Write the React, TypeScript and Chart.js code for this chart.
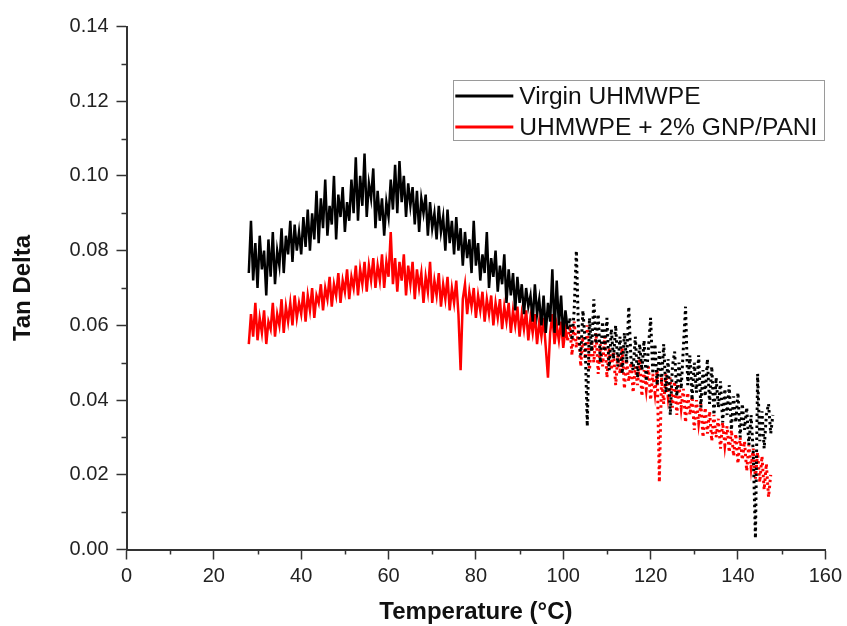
import { useEffect, useRef } from "react";
import { Chart, registerables } from "chart.js";

Chart.register(...registerables);

const temperatures = [
  28, 28.5, 29, 29.5, 30, 30.5, 31, 31.5, 32, 32.5,
  33, 33.5, 34, 34.5, 35, 35.5, 36, 36.5, 37, 37.5,
  38, 38.5, 39, 39.5, 40, 40.5, 41, 41.5, 42, 42.5,
  43, 43.5, 44, 44.5, 45, 45.5, 46, 46.5, 47, 47.5,
  48, 48.5, 49, 49.5, 50, 50.5, 51, 51.5, 52, 52.5,
  53, 53.5, 54, 54.5, 55, 55.5, 56, 56.5, 57, 57.5,
  58, 58.5, 59, 59.5, 60, 60.5, 61, 61.5, 62, 62.5,
  63, 63.5, 64, 64.5, 65, 65.5, 66, 66.5, 67, 67.5,
  68, 68.5, 69, 69.5, 70, 70.5, 71, 71.5, 72, 72.5,
  73, 73.5, 74, 74.5, 75, 75.5, 76, 76.5, 77, 77.5,
  78, 78.5, 79, 79.5, 80, 80.5, 81, 81.5, 82, 82.5,
  83, 83.5, 84, 84.5, 85, 85.5, 86, 86.5, 87, 87.5,
  88, 88.5, 89, 89.5, 90, 90.5, 91, 91.5, 92, 92.5,
  93, 93.5, 94, 94.5, 95, 95.5, 96, 96.5, 97, 97.5,
  98, 98.5, 99, 99.5, 100, 100.5, 101, 101.5, 102, 102.5,
  103, 103.5, 104, 104.5, 105, 105.5, 106, 106.5, 107, 107.5,
  108, 108.5, 109, 109.5, 110, 110.5, 111, 111.5, 112, 112.5,
  113, 113.5, 114, 114.5, 115, 115.5, 116, 116.5, 117, 117.5,
  118, 118.5, 119, 119.5, 120, 120.5, 121, 121.5, 122, 122.5,
  123, 123.5, 124, 124.5, 125, 125.5, 126, 126.5, 127, 127.5,
  128, 128.5, 129, 129.5, 130, 130.5, 131, 131.5, 132, 132.5,
  133, 133.5, 134, 134.5, 135, 135.5, 136, 136.5, 137, 137.5,
  138, 138.5, 139, 139.5, 140, 140.5, 141, 141.5, 142, 142.5,
  143, 143.5, 144, 144.5, 145, 145.5, 146, 146.5, 147, 147.5,
  148,
];

const virginTanDelta = [
  0.074, 0.088, 0.072, 0.082, 0.070, 0.084, 0.075, 0.080, 0.068, 0.083,
  0.073, 0.085, 0.071, 0.080, 0.076, 0.086, 0.074, 0.084, 0.079, 0.088,
  0.077, 0.087, 0.080, 0.085, 0.079, 0.089, 0.081, 0.091, 0.080, 0.090,
  0.083, 0.096, 0.082, 0.094, 0.086, 0.099, 0.084, 0.092, 0.087, 0.100,
  0.083, 0.095, 0.089, 0.097, 0.085, 0.093, 0.088, 0.099, 0.090, 0.105,
  0.088, 0.100, 0.092, 0.106, 0.089, 0.098, 0.094, 0.102, 0.086, 0.096,
  0.088, 0.094, 0.084, 0.093, 0.089, 0.099, 0.091, 0.103, 0.090, 0.104,
  0.093, 0.100, 0.089, 0.098, 0.092, 0.097, 0.087, 0.096, 0.085, 0.094,
  0.090, 0.095, 0.084, 0.093, 0.086, 0.090, 0.083, 0.092, 0.085, 0.089,
  0.080, 0.091, 0.082, 0.088, 0.079, 0.089, 0.080, 0.086, 0.076, 0.085,
  0.078, 0.083, 0.074, 0.088, 0.076, 0.082, 0.072, 0.079, 0.074, 0.085,
  0.070, 0.078, 0.073, 0.080, 0.069, 0.076, 0.071, 0.079, 0.066, 0.075,
  0.068, 0.074, 0.064, 0.073, 0.066, 0.071, 0.063, 0.070, 0.065, 0.068,
  0.061, 0.071, 0.063, 0.067, 0.060, 0.068, 0.058, 0.066, 0.061, 0.075,
  0.058, 0.072, 0.060, 0.068, 0.057, 0.064, 0.059, 0.062, 0.056, 0.064,
  0.080, 0.058, 0.052, 0.064, 0.056, 0.033, 0.062, 0.053, 0.067, 0.055,
  0.063, 0.050, 0.061, 0.053, 0.062, 0.048, 0.059, 0.051, 0.060, 0.049,
  0.057, 0.047, 0.058, 0.050, 0.065, 0.051, 0.048, 0.057, 0.046, 0.055,
  0.048, 0.056, 0.045, 0.054, 0.062, 0.047, 0.055, 0.044, 0.053, 0.045,
  0.055, 0.042, 0.051, 0.036, 0.049, 0.053, 0.041, 0.050, 0.043, 0.054,
  0.065, 0.044, 0.052, 0.040, 0.050, 0.042, 0.052, 0.038, 0.048, 0.041,
  0.051, 0.039, 0.049, 0.036, 0.046, 0.038, 0.045, 0.034, 0.043, 0.036,
  0.044, 0.032, 0.041, 0.034, 0.042, 0.030, 0.039, 0.032, 0.038, 0.028,
  0.036, 0.026, 0.003, 0.047, 0.029, 0.037, 0.027, 0.036, 0.039, 0.031,
  0.036,
];

const compositeTanDelta = [
  0.055, 0.063, 0.057, 0.066, 0.056, 0.062, 0.058, 0.064, 0.055, 0.061,
  0.059, 0.066, 0.057, 0.063, 0.060, 0.067, 0.058, 0.065, 0.061, 0.066,
  0.060, 0.068, 0.062, 0.066, 0.063, 0.069, 0.061, 0.068, 0.064, 0.070,
  0.062, 0.068, 0.066, 0.071, 0.064, 0.070, 0.067, 0.073, 0.065, 0.071,
  0.068, 0.074, 0.066, 0.072, 0.069, 0.075, 0.067, 0.073, 0.070, 0.076,
  0.068, 0.075, 0.071, 0.077, 0.069, 0.076, 0.072, 0.078, 0.070, 0.076,
  0.072, 0.079, 0.070, 0.077, 0.073, 0.085, 0.071, 0.078, 0.069, 0.077,
  0.072, 0.079, 0.068, 0.076, 0.071, 0.077, 0.067, 0.075, 0.070, 0.074,
  0.066, 0.073, 0.069, 0.077, 0.066, 0.072, 0.068, 0.074, 0.065, 0.071,
  0.067, 0.073, 0.064, 0.070, 0.066, 0.072, 0.063, 0.048, 0.067, 0.071,
  0.063, 0.069, 0.065, 0.070, 0.062, 0.068, 0.064, 0.069, 0.061, 0.067,
  0.063, 0.068, 0.060, 0.066, 0.062, 0.067, 0.059, 0.065, 0.061, 0.066,
  0.058, 0.064, 0.060, 0.065, 0.057, 0.063, 0.059, 0.064, 0.056, 0.062,
  0.058, 0.063, 0.055, 0.061, 0.057, 0.062, 0.054, 0.046, 0.058, 0.063,
  0.055, 0.060, 0.056, 0.061, 0.054, 0.059, 0.056, 0.060, 0.052, 0.061,
  0.054, 0.059, 0.049, 0.057, 0.051, 0.060, 0.048, 0.056, 0.050, 0.058,
  0.047, 0.055, 0.049, 0.057, 0.046, 0.054, 0.048, 0.053, 0.044, 0.052,
  0.047, 0.054, 0.043, 0.051, 0.045, 0.050, 0.042, 0.049, 0.044, 0.051,
  0.041, 0.048, 0.043, 0.049, 0.040, 0.047, 0.042, 0.048, 0.018, 0.046,
  0.039, 0.047, 0.041, 0.046, 0.038, 0.045, 0.036, 0.044, 0.038, 0.043,
  0.034, 0.042, 0.036, 0.041, 0.032, 0.040, 0.034, 0.039, 0.030, 0.038,
  0.031, 0.037, 0.029, 0.036, 0.030, 0.035, 0.027, 0.034, 0.028, 0.033,
  0.026, 0.032, 0.025, 0.031, 0.023, 0.030, 0.024, 0.029, 0.021, 0.028,
  0.022, 0.027, 0.019, 0.026, 0.018, 0.025, 0.016, 0.023, 0.014, 0.020,
  null,
];

const seriesLabels = ["Virgin UHMWPE", "UHMWPE + 2% GNP/PANI"];
const seriesColors = ["#000000", "#ff0000"];
const dottedFromTemperature = 101;

const FONT = "Arial, 'Liberation Sans', Helvetica, sans-serif";
const AXIS_COLOR = "#333333";

const minorTicksPlugin = {
  id: "minorTicks",
  afterDraw(chart: any) {
    const { ctx } = chart;
    const xs = chart.scales.x;
    const ys = chart.scales.y;
    ctx.save();
    ctx.strokeStyle = AXIS_COLOR;
    ctx.lineWidth = 1.5;
    const xt = xs.ticks.map((t: any) => t.value);
    for (let i = 0; i < xt.length - 1; i++) {
      const px = Math.round(xs.getPixelForValue((xt[i] + xt[i + 1]) / 2)) + 0.5;
      ctx.beginPath();
      ctx.moveTo(px, xs.top);
      ctx.lineTo(px, xs.top + 5);
      ctx.stroke();
    }
    const yt = ys.ticks.map((t: any) => t.value);
    for (let i = 0; i < yt.length - 1; i++) {
      const py = Math.round(ys.getPixelForValue((yt[i] + yt[i + 1]) / 2)) + 0.5;
      ctx.beginPath();
      ctx.moveTo(ys.right, py);
      ctx.lineTo(ys.right - 5, py);
      ctx.stroke();
    }
    ctx.restore();
  },
};

const boxLegendPlugin = {
  id: "boxLegend",
  afterDraw(chart: any) {
    const { ctx, chartArea } = chart;
    const right = chartArea.right - 1;
    const left = right - 371;
    const top = chartArea.top + 53.5;
    const h = 60;
    ctx.save();
    ctx.fillStyle = "#ffffff";
    ctx.fillRect(left, top, right - left, h);
    ctx.strokeStyle = "#9a9a9a";
    ctx.lineWidth = 1;
    ctx.strokeRect(Math.round(left) + 0.5, Math.round(top) + 0.5, right - left, h);
    chart.data.datasets.forEach((ds: any, i: number) => {
      const cy = top + 16 + i * 31;
      ctx.strokeStyle = ds.borderColor;
      ctx.lineWidth = 3;
      ctx.beginPath();
      ctx.moveTo(left + 2, cy);
      ctx.lineTo(left + 60, cy);
      ctx.stroke();
      ctx.fillStyle = "#111111";
      ctx.font = `24.6px ${FONT}`;
      ctx.textBaseline = "middle";
      ctx.textAlign = "left";
      ctx.fillText(ds.label, left + 66, cy + 1);
    });
    ctx.restore();
  },
};

function makeDataset(label: string, color: string, values: (number | null)[]) {
  return {
    label,
    data: temperatures.map((t, i) => ({ x: t, y: values[i] ?? null })),
    borderColor: color,
    backgroundColor: color,
    borderWidth: 2.5,
    pointRadius: 0,
    pointHoverRadius: 0,
    tension: 0,
    spanGaps: false,
    segment: {
      borderDash: (c: any) => (c.p0.parsed.x >= dottedFromTemperature ? [2.5, 3.5] : undefined),
      borderWidth: (c: any) => (c.p0.parsed.x >= dottedFromTemperature ? 3 : undefined),
    },
  };
}

export default function App() {
  const canvasRef = useRef<HTMLCanvasElement | null>(null);

  useEffect(() => {
    if (!canvasRef.current) return;
    const chart = new Chart(canvasRef.current, {
      type: "line",
      data: {
        datasets: [
          makeDataset(seriesLabels[0], seriesColors[0], virginTanDelta),
          makeDataset(seriesLabels[1], seriesColors[1], compositeTanDelta),
        ],
      },
      options: {
        animation: false,
        responsive: true,
        maintainAspectRatio: false,
        layout: { padding: { top: 26.5, right: 17.7, left: 0, bottom: 0 } },
        plugins: {
          legend: { display: false },
          tooltip: { enabled: false },
        },
        scales: {
          x: {
            type: "linear",
            min: 0,
            max: 160,
            ticks: {
              stepSize: 20,
              autoSkip: false,
              maxRotation: 0,
              color: "#222222",
              padding: 5,
              font: { family: FONT, size: 20 },
            },
            grid: {
              drawOnChartArea: false,
              drawTicks: true,
              tickLength: 10,
              tickColor: AXIS_COLOR,
              tickWidth: 1.5,
            },
            border: { display: true, color: AXIS_COLOR, width: 2 },
            title: {
              display: true,
              text: "Temperature (°C)",
              color: "#111111",
              font: { family: FONT, size: 24, weight: "bold", lineHeight: 1.1 },
              padding: { top: 0, bottom: 0 },
            },
            afterFit(scale: any) {
              scale.height = 76.5;
            },
          },
          y: {
            type: "linear",
            min: 0,
            max: 0.14,
            ticks: {
              stepSize: 0.02,
              autoSkip: false,
              color: "#222222",
              padding: 8,
              font: { family: FONT, size: 20 },
              callback: (v: any) => Number(v).toFixed(2),
            },
            grid: {
              drawOnChartArea: false,
              drawTicks: true,
              tickLength: 10,
              tickColor: AXIS_COLOR,
              tickWidth: 1.5,
            },
            border: { display: true, color: AXIS_COLOR, width: 2 },
            title: {
              display: true,
              text: "Tan Delta",
              color: "#111111",
              font: { family: FONT, size: 24, weight: "bold", lineHeight: 1.1 },
              padding: { top: 10, bottom: 0 },
            },
            afterFit(scale: any) {
              scale.width = 126.5;
            },
          },
        },
      } as any,
      plugins: [minorTicksPlugin, boxLegendPlugin],
    });
    return () => chart.destroy();
  }, []);

  return (
    <div
      style={{
        position: "absolute",
        left: 0,
        top: 0,
        width: 847,
        height: 626,
        background: "#ffffff",
      }}
    >
      <canvas ref={canvasRef} />
    </div>
  );
}
